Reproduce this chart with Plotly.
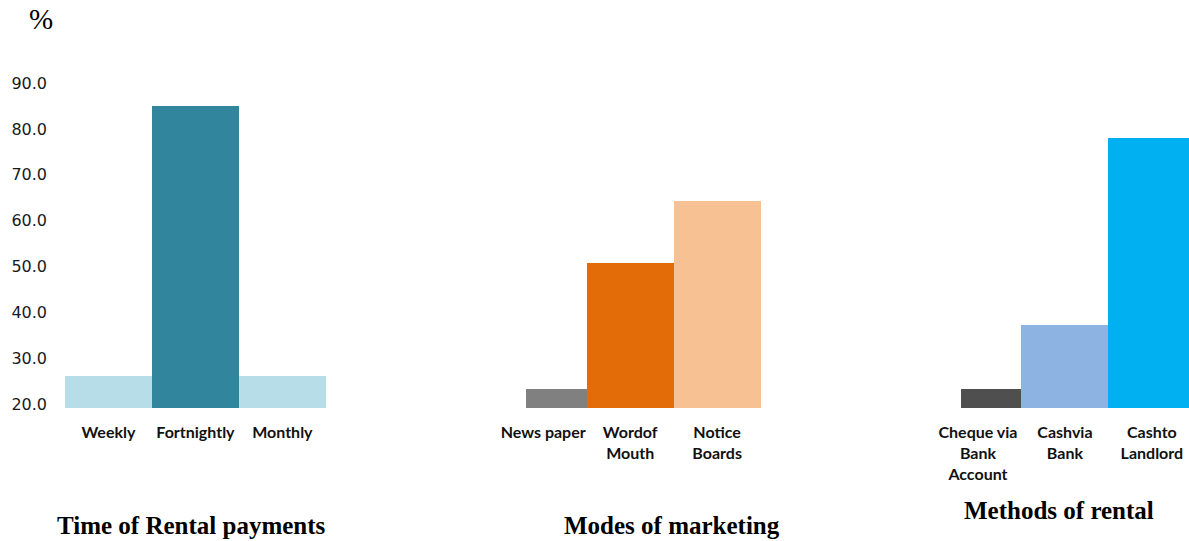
import plotly.graph_objects as go

# ---- data ----
group_titles = ["Time of Rental payments", "Modes of marketing", "Methods of rental"]
time_labels = ["Weekly", "Fortnightly", "Monthly"]
time_values = [26.2, 84.9, 26.2]
marketing_labels = ["News paper", "Wordof<br>Mouth", "Notice<br>Boards"]
marketing_values = [23.5, 50.9, 64.4]
method_labels = ["Cheque via<br>Bank<br>Account", "Cashvia<br>Bank", "Cashto<br>Landlord"]
method_values = [23.5, 37.4, 78.1]

time_colors = ["#B7DDE8", "#31859C", "#B7DDE8"]
marketing_colors = ["#808080", "#E36C09", "#F8C193"]
method_colors = ["#4F4F4F", "#8DB3E2", "#00B0F0"]

groups = [
    (time_labels, time_values, time_colors),
    (marketing_labels, marketing_values, marketing_colors),
    (method_labels, method_values, method_colors),
]

slots_per_group = 5  # 3 bars + 2 empty slots

xs, ys, cols, widths, offsets, labels = [], [], [], [], [], []
for g, (labs, vals, cs) in enumerate(groups):
    for i, (lab, v, c) in enumerate(zip(labs, vals, cs)):
        xs.append(g * slots_per_group + i)
        ys.append(v)
        cols.append(c)
        labels.append(lab)
        if g > 0 and i == 0:
            widths.append(0.7)
            offsets.append(-0.2)
        else:
            widths.append(1.0)
            offsets.append(-0.5)

fig = go.Figure()
fig.add_trace(go.Bar(
    x=xs, y=ys, width=widths, offset=offsets,
    marker=dict(color=cols, line=dict(width=0)),
    hoverinfo="y",
))

W, H = 1189, 541
ml, mr, mt, mb = 65, 0, 70, 133

fig.update_layout(
    width=W, height=H,
    margin=dict(l=ml, r=mr, t=mt, b=mb, pad=0),
    paper_bgcolor="white", plot_bgcolor="white",
    showlegend=False,
    bargap=0,
    xaxis=dict(
        range=[-0.5, 12.427],
        tickmode="array", tickvals=xs, ticktext=[f"<b>{l}</b>" for l in labels],
        tickfont=dict(family="Lato, Open Sans, sans-serif", size=16, color="#111111"),
        showgrid=False, zeroline=False, showline=False,
        ticks="", ticklabelstandoff=13,
    ),
    yaxis=dict(
        range=[19.28, 92.82],
        tickmode="linear", tick0=20, dtick=10, tickformat=".1f",
        tickfont=dict(family="DejaVu Sans, sans-serif", size=16, color="#1a1a1a"),
        showgrid=False, zeroline=False, showline=False,
        ticks="", ticklabelstandoff=17,
    ),
)

plot_w = W - ml - mr
plot_h = H - mt - mb
title_px = [(191.5, 525), (671.5, 525), (1059, 510)]
for t, (px, py) in zip(group_titles, title_px):
    fig.add_annotation(
        text=f"<b>{t}</b>", xref="paper", yref="paper",
        x=(px - ml) / plot_w, y=(H - mb - py) / plot_h,
        xanchor="center", yanchor="middle", showarrow=False,
        font=dict(family="Liberation Serif, Times New Roman, serif", size=25, color="#000000"),
    )

fig.add_annotation(
    text="%", xref="paper", yref="paper",
    x=(41 - ml) / plot_w, y=(H - mb - 19) / plot_h,
    xanchor="center", yanchor="middle", showarrow=False,
    font=dict(family="Liberation Serif, Times New Roman, serif", size=29, color="#000000"),
)

fig.write_html(
    "out.html",
    config={"displayModeBar": False},
    post_script="document.body.style.margin='0';document.body.style.overflow='hidden';",
)
